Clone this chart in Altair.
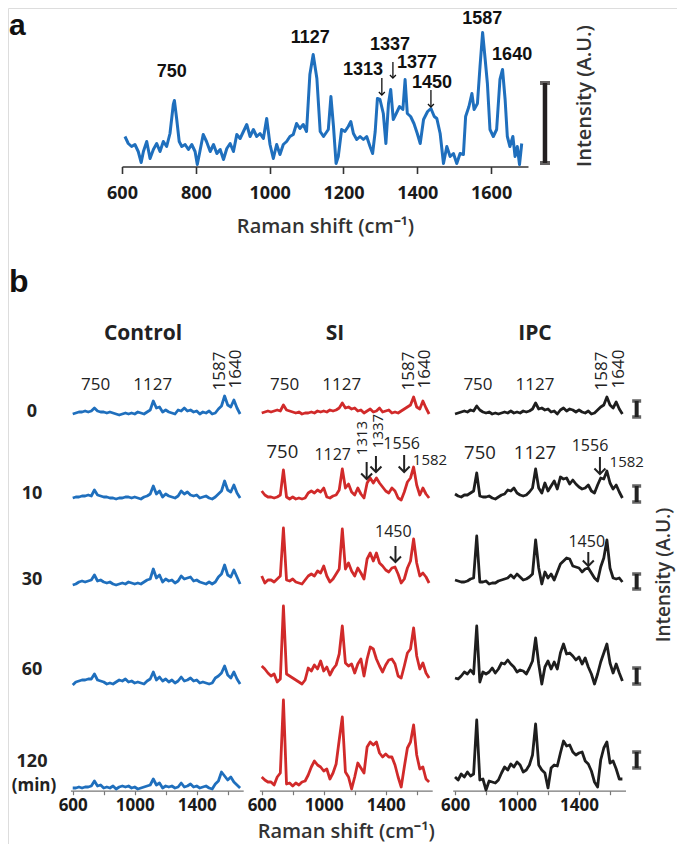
import altair as alt
import pandas as pd

# ---------------- panel a : single spectrum ----------------
wn_a = [
    608, 617, 626, 635, 644, 652, 658, 667, 676, 685,
    694, 703, 712, 721, 730, 739, 742, 748, 755, 762,
    771, 780, 789, 798, 804, 811, 820, 829, 839, 848,
    857, 866, 875, 884, 893, 902, 911, 920, 929, 938,
    947, 956, 965, 974, 983, 992, 1001, 1010, 1019, 1028,
    1037, 1046, 1055, 1064, 1073, 1082, 1091, 1100, 1109, 1118,
    1128, 1137, 1146, 1159, 1166, 1173, 1180, 1186, 1195, 1204,
    1213, 1220, 1227, 1236, 1245, 1254, 1263, 1272, 1279, 1286,
    1292, 1299, 1308, 1315, 1322, 1328, 1335, 1343, 1352, 1361,
    1367, 1373, 1382, 1391, 1400, 1408, 1417, 1428, 1437, 1446,
    1453, 1462, 1471, 1480, 1489, 1498, 1507, 1516, 1525, 1531,
    1540, 1548, 1554, 1563, 1570, 1577, 1584, 1590, 1597, 1606,
    1615, 1624, 1631, 1638, 1644, 1651, 1659, 1665, 1671, 1677,
    1683]
int_a = [
    30, 23, 20, 22, 15, 4, 15, 25, 8, 17,
    23, 15, 25, 20, 33, 62, 66, 48, 25, 20,
    22, 17, 22, 15, 2, 15, 32, 25, 15, 22,
    13, 17, 7, 18, 23, 15, 32, 28, 35, 42,
    30, 37, 30, 33, 28, 48, 22, 8, 22, 12,
    22, 25, 30, 32, 43, 38, 42, 35, 92, 112,
    88, 35, 30, 37, 70, 40, 3, 10, 37, 35,
    40, 45, 33, 27, 30, 27, 30, 20, 13, 35,
    68, 67, 53, 23, 63, 77, 47, 53, 60, 57,
    87, 53, 50, 43, 33, 23, 47, 55, 58, 50,
    48, 33, 3, 20, 10, 13, 3, 13, 12, 50,
    60, 73, 57, 63, 100, 134, 107, 83, 37, 30,
    37, 87, 97, 67, 30, 20, 30, 10, 20, 2,
    23]

a_labels = ["750", "1127", "1313", "1337", "1377", "1450", "1587", "1640"]
a_label_wn = [735, 1110, 1253, 1326, 1399, 1440, 1576, 1657]
a_label_y = [95, 128.5, 96.5, 121.5, 103.5, 83.5, 147.5, 111.5]
# arrows of panel a: wavenumber, top, tip
a_arrow_wn = [1304, 1334, 1437]
a_arrow_top = [88.5, 104.5, 76.5]
a_arrow_tip = [71.5, 88.5, 59.5]
a_bar_wn = 1746
a_bar_y = [3.5, 83.5]

# ---------------- panel b : 3 groups x 5 times ----------------
wn_b = list(range(600, 1681, 20))
times = ["0", "10", "30", "60", "120"]
groups = ["Control", "SI", "IPC"]

control_0 = [2, 3, 4, 4, 5, 4, 5, 8, 5, 4, 4,
             3, 4, 3, 2, 1, 2, 3, 2, 3, 2, 4,
             3, 2, 4, 6, 15, 8, 9, 4, 6, 4, 3,
             2, 6, 5, 8, 5, 6, 4, 5, 2, 4, 3,
             5, 2, 3, 7, 10, 20, 11, 9, 16, 8, 2]
control_10 = [2, 3, 3, 4, 4, 5, 4, 10, 5, 4, 3,
              3, 2, 2, 1, 2, 2, 3, 3, 2, 3, 2,
              1, 3, 4, 6, 14, 6, 9, 3, 6, 4, 3,
              2, 4, 9, 6, 8, 5, 4, 5, 2, 3, 4,
              2, 1, 3, 6, 9, 19, 10, 8, 15, 7, 2]
control_30 = [1, 2, 4, 5, 4, 5, 6, 11, 5, 6, 4,
              3, 4, 2, 1, 2, 3, 2, 4, 3, 2, 3,
              2, 4, 6, 7, 17, 8, 11, 4, 7, 5, 6,
              3, 5, 10, 7, 8, 9, 5, 6, 4, 3, 2,
              4, 2, 4, 9, 12, 21, 11, 9, 16, 9, 2]
control_60 = [1, 4, 5, 6, 6, 7, 7, 12, 6, 5, 4,
              2, 3, 2, 4, 6, 5, 7, 4, 5, 3, 4,
              3, 2, 5, 7, 14, 6, 9, 5, 7, 4, 6,
              3, 5, 9, 5, 6, 8, 5, 6, 3, 4, 3,
              2, 3, 8, 10, 13, 20, 11, 8, 14, 7, 2]
control_120 = [2, 2, 3, 2, 3, 3, 4, 9, 4, 5, 2,
               3, 2, 4, 1, 3, 4, 3, 4, 2, 3, 1,
               2, 3, 4, 5, 11, 5, 7, 2, 4, 3, 4,
               2, 3, 7, 3, 4, 6, 3, 4, 2, 3, 4,
               2, 1, 6, 9, 18, 14, 10, 13, 8, 5, 2]

si_0 = [3, 4, 5, 4, 5, 6, 5, 11, 6, 5, 4,
        3, 4, 2, 3, 3, 4, 3, 5, 4, 5, 4,
        6, 5, 6, 8, 13, 8, 9, 7, 8, 5, 6,
        3, 5, 7, 4, 5, 8, 4, 5, 6, 3, 4,
        3, 5, 7, 9, 11, 19, 9, 7, 15, 8, 2]
si_10 = [9, 5, 3, 3, 2, 3, 5, 30, 3, 1, 3,
         1, 2, 1, 2, 7, 9, 7, 10, 8, 12, 3,
         2, 4, 5, 10, 31, 12, 16, 8, 5, 12, 6,
         2, 17, 22, 17, 22, 17, 13, 9, 7, 12, 9,
         2, 0, 8, 18, 22, 33, 15, 5, 12, 6, 2]
si_30 = [10, 3, 6, 6, 4, 7, 10, 58, 6, 5, 7,
         4, 3, 2, 6, 10, 12, 10, 15, 13, 20, 10,
         4, 7, 12, 17, 57, 17, 23, 15, 10, 18, 13,
         7, 27, 33, 25, 33, 23, 20, 16, 14, 18, 19,
         12, 3, 7, 18, 25, 47, 23, 10, 13, 9, 3]
si_60 = [20, 17, 13, 10, 12, 4, 7, 80, 12, 10, 8,
         6, 4, 2, 6, 18, 15, 21, 17, 25, 15, 19,
         11, 17, 21, 32, 60, 23, 20, 22, 13, 22, 27,
         10, 27, 39, 37, 27, 20, 14, 21, 26, 27, 22,
         10, 8, 20, 33, 37, 58, 30, 17, 23, 13, 8]
si_120 = [13, 10, 8, 8, 5, 13, 17, 90, 6, 7, 4,
          7, 5, 8, 9, 15, 23, 29, 25, 23, 19, 21,
          11, 17, 26, 50, 73, 18, 13, 1, 13, 27, 22,
          17, 43, 48, 45, 48, 37, 33, 36, 33, 33, 25,
          13, 3, 23, 42, 48, 65, 35, 21, 23, 11, 8]

ipc_0 = [2, 3, 4, 5, 4, 6, 5, 10, 6, 4, 3,
         4, 2, 3, 2, 3, 4, 3, 5, 3, 4, 3,
         5, 4, 5, 7, 13, 7, 8, 6, 7, 4, 5,
         2, 6, 8, 5, 7, 6, 4, 6, 4, 3, 5,
         2, 3, 6, 9, 11, 19, 11, 8, 14, 7, 2]
ipc_10 = [6, 4, 3, 5, 5, 7, 9, 27, 4, 3, 3,
          4, 2, 1, 3, 5, 6, 10, 9, 12, 7, 5,
          4, 5, 8, 12, 31, 12, 7, 17, 9, 14, 19,
          11, 23, 21, 22, 16, 20, 16, 13, 11, 12, 15,
          9, 7, 15, 22, 21, 29, 17, 11, 15, 8, 2]
ipc_30 = [6, 5, 4, 4, 5, 7, 8, 50, 4, 4, 5,
          2, 3, 3, 5, 6, 7, 8, 11, 8, 12, 9,
          6, 7, 9, 12, 46, 18, 2, 14, 8, 12, 6,
          14, 22, 25, 28, 27, 20, 19, 18, 14, 17, 18,
          13, 8, 5, 19, 28, 46, 18, 8, 7, 8, 4]
ipc_60 = [8, 7, 10, 14, 12, 16, 12, 60, 4, 14, 12,
          14, 18, 13, 17, 23, 22, 26, 22, 19, 14, 16,
          15, 12, 18, 25, 48, 22, 2, 19, 25, 17, 24,
          17, 33, 42, 32, 33, 30, 26, 29, 22, 28, 19,
          12, 2, 12, 24, 33, 42, 23, 13, 22, 13, 5]
ipc_120 = [13, 10, 16, 13, 18, 14, 16, 70, 10, 11, 0,
           9, 8, 7, 10, 17, 23, 20, 26, 23, 28, 25,
           18, 20, 25, 35, 66, 25, 20, 17, 2, 22, 25,
           24, 37, 49, 44, 45, 38, 35, 37, 38, 29, 26,
           19, 8, 3, 30, 42, 48, 27, 29, 21, 11, 11]

spectra_b = {
    "Control": [control_0, control_10, control_30, control_60, control_120],
    "SI": [si_0, si_10, si_30, si_60, si_120],
    "IPC": [ipc_0, ipc_10, ipc_30, ipc_60, ipc_120],
}
for g in groups:
    for s in spectra_b[g]:
        assert len(s) == len(wn_b), (g, len(s))

# vertical stacking of the five time rows (intensity units above the axis)
row_base = [374, 290, 204, 104, 0]

# annotations of panel b
b_row0_h = [("750", 748, 405), ("1127", 1116, 405)]
b_row0_v = [("1587", 1548, 419), ("1640", 1655, 421)]
b_big = [("SI", "750", 733, 338), ("IPC", "750", 761, 337), ("IPC", "1127", 1116, 337)]
b_mid = [("SI", "1127", 1058, 335), ("SI", "1556", 1503, 346), ("SI", "1450", 1449, 258),
         ("IPC", "1556", 1471, 344), ("IPC", "1450", 1450, 248)]
b_small = [("SI", "1582", 1686, 330), ("IPC", "1582", 1708, 328)]
b_rot = [("SI", "1313", 1250, 352), ("SI", "1337", 1349, 359)]
# arrows of panel b: group, wavenumber, top, tip
b_arrows = [("SI", 1277, 328, 311), ("SI", 1337, 334, 318), ("SI", 1519, 335, 318),
            ("SI", 1463, 244, 228), ("IPC", 1535, 333, 316), ("IPC", 1460, 238, 224)]
b_bar_wn = 1772
b_bar_lo = [373, 288, 201, 106, 22]
b_bar_hi = [389, 304, 216, 122, 38]

# ---------------- layout / style ----------------
W, H = 669, 836
FONT = "Open Sans"
COLORS = {"Control": "#1f6fbd", "SI": "#d12a2a", "IPC": "#1e1e1e"}
TXT = "#222222"
VHEAD = "M-1,-1L0,0L1,-1"

XA = ([600, 1700], [114, 520])
YA = ([0, 140], [158.5, 18.5])
XB = {"Control": ([585, 1700], [62.4, 235.2]),
      "SI": ([585, 1700], [251.4, 424.2]),
      "IPC": ([585, 1700], [444.7, 617.5])}
YB = ([0, 400], [782, 382])
AXIS_B_Y = 782.7


def sx(spec, field="wn", axis=None):
    return alt.X(f"{field}:Q", scale=alt.Scale(domain=spec[0], range=spec[1], nice=False, zero=False),
                 axis=axis)


def sy(spec, field="y"):
    return alt.Y(f"{field}:Q", scale=alt.Scale(domain=spec[0], range=spec[1], nice=False, zero=False),
                 axis=None)


def fixed_text(txt, px, py, **mk):
    base = dict(font=FONT, color=TXT, align="center", baseline="middle")
    base.update(mk)
    return alt.Chart(pd.DataFrame({"t": [txt]})).mark_text(**base).encode(
        x=alt.value(px - 8), y=alt.value(py - 8), text="t:N")


def arrows(df, xspec, yspec, color, sw, head):
    shaft = alt.Chart(df).mark_rule(color=color, strokeWidth=sw).encode(
        x=sx(xspec), y=sy(yspec, "top"), y2="tip:Q")
    tip = alt.Chart(df).mark_point(shape=VHEAD, filled=False, color=color, strokeWidth=sw,
                                   size=head * head, opacity=1, strokeJoin="miter").encode(
        x=sx(xspec), y=sy(yspec, "tip"))
    return [shaft, tip]


layers = []

# ---- panel a
dfa = pd.DataFrame({"wn": wn_a, "y": int_a})
axis_a = alt.Axis(orient="bottom", offset=158.5 - H, values=[600, 800, 1000, 1200, 1400, 1600],
                  format="d", grid=False, labelFlush=False, labelOverlap=False,
                  domainColor="#333", domainWidth=1.6, tickColor="#333", tickWidth=1.6, tickSize=7,
                  labelFont=FONT, labelFontSize=18, labelFontWeight="bold", labelColor="#1a1a1a",
                  labelPadding=11, title="Raman shift (cm\u207b\u00b9)", titleFont=FONT,
                  titleFontSize=20, titleFontWeight=600, titleColor="#333", titlePadding=14)
layers.append(alt.Chart(dfa).mark_line(color=COLORS["Control"], strokeWidth=3, strokeJoin="round")
              .encode(x=sx(XA, axis=axis_a), y=sy(YA)))
dfa_lab = pd.DataFrame({"text": a_labels, "wn": a_label_wn, "y": a_label_y})
layers.append(alt.Chart(dfa_lab).mark_text(font="Liberation Sans", fontSize=18, fontWeight="bold",
                                           color="#111", baseline="middle")
              .encode(x=sx(XA), y=sy(YA), text="text:N"))
dfa_arr = pd.DataFrame({"wn": a_arrow_wn, "top": a_arrow_top, "tip": a_arrow_tip})
layers += arrows(dfa_arr, XA, YA, "#111", 1.3, 6)
dfa_bar = pd.DataFrame({"wn": [a_bar_wn], "y": [a_bar_y[0]], "y2": [a_bar_y[1]]})
layers.append(alt.Chart(dfa_bar).mark_rule(color="#231f20", strokeWidth=4.5)
              .encode(x=sx(XA), y=sy(YA), y2="y2:Q"))
dfa_cap = pd.DataFrame({"wn": [a_bar_wn, a_bar_wn], "y": a_bar_y})
layers.append(alt.Chart(dfa_cap).mark_tick(color="#231f20", orient="horizontal", size=10, thickness=4)
              .encode(x=sx(XA), y=sy(YA)))

# ---- panel b spectra
for g in groups:
    recs = []
    for r, t in enumerate(times):
        for w, v in zip(wn_b, spectra_b[g][r]):
            recs.append({"wn": w, "y": v + row_base[r], "row": t})
    df = pd.DataFrame(recs)
    axis_b = alt.Axis(orient="bottom", offset=AXIS_B_Y - H, values=[600, 800, 1000, 1200, 1400, 1600],
                      format="d", labelExpr="(datum.value - 600) % 400 == 0 ? datum.label : ''",
                      grid=False, labelFlush=False, labelOverlap=False,
                      domainColor="#777", domainWidth=1.2, tickColor="#777", tickWidth=1.2, tickSize=4,
                      labelFont=FONT, labelFontSize=17, labelFontWeight="bold", labelColor="#1a1a1a",
                      labelPadding=3,
                      title=("Raman shift (cm\u207b\u00b9)" if g == "SI" else ""),
                      titleFont=FONT, titleFontSize=20, titleFontWeight=600, titleColor="#333",
                      titlePadding=8)
    layers.append(alt.Chart(df).mark_line(color=COLORS[g], strokeWidth=2.8, strokeJoin="round")
                  .encode(x=sx(XB[g], axis=axis_b), y=sy(YB), detail="row:N"))

    df0 = pd.DataFrame([{"text": t, "wn": w, "y": y} for t, w, y in b_row0_h])
    layers.append(alt.Chart(df0).mark_text(font=FONT, fontSize=17, color=TXT, baseline="middle")
                  .encode(x=sx(XB[g]), y=sy(YB), text="text:N"))
    df0v = pd.DataFrame([{"text": t, "wn": w, "y": y} for t, w, y in b_row0_v])
    layers.append(alt.Chart(df0v).mark_text(font=FONT, fontSize=17, color=TXT, baseline="middle",
                                            angle=270)
                  .encode(x=sx(XB[g]), y=sy(YB), text="text:N"))

    for lst, size, ang in [(b_big, 18.5, 0), (b_mid, 16, 0), (b_small, 15, 0), (b_rot, 15, 270)]:
        sub = [{"text": t, "wn": w, "y": y} for gg, t, w, y in lst if gg == g]
        if sub:
            mk = dict(font=FONT, fontSize=size, color=TXT, baseline="middle")
            if ang:
                mk["angle"] = ang
            layers.append(alt.Chart(pd.DataFrame(sub)).mark_text(**mk)
                          .encode(x=sx(XB[g]), y=sy(YB), text="text:N"))
    arr = [{"wn": w, "top": a, "tip": b} for gg, w, a, b in b_arrows if gg == g]
    if arr:
        layers += arrows(pd.DataFrame(arr), XB[g], YB, TXT, 2, 11)

# scale bars of panel b (to the right of the IPC column)
dfb_bar = pd.DataFrame({"wn": [b_bar_wn] * 5, "y": b_bar_lo, "y2": b_bar_hi})
layers.append(alt.Chart(dfb_bar).mark_rule(color="#222", strokeWidth=4)
              .encode(x=sx(XB["IPC"]), y=sy(YB), y2="y2:Q"))
dfb_cap = pd.DataFrame({"wn": [b_bar_wn] * 10, "y": b_bar_lo + b_bar_hi})
layers.append(alt.Chart(dfb_cap).mark_tick(color="#222", orient="horizontal", size=9, thickness=3.5)
              .encode(x=sx(XB["IPC"]), y=sy(YB)))

# ---- figure texts
layers.append(fixed_text("a", 9, 35, font="Liberation Sans", fontSize=30, fontWeight="bold",
                         color="#111", align="left", baseline="alphabetic"))
layers.append(fixed_text("b", 9, 292, font="Liberation Sans", fontSize=32, fontWeight="bold",
                         color="#111", align="left", baseline="alphabetic"))
for g, px in zip(groups, [143, 335, 535]):
    layers.append(fixed_text(g, px, 334, fontSize=21, fontWeight="bold"))
for t, py in zip(times, [412, 494, 580, 670, 762]):
    layers.append(fixed_text(t, 32, py, fontSize=18, fontWeight="bold"))
layers.append(fixed_text("(min)", 34, 786, fontSize=17, fontWeight="bold"))
layers.append(fixed_text("Intensity (A.U.)", 585, 96, fontSize=20, fontWeight=600, angle=270,
                         color="#333"))
layers.append(fixed_text("Intensity (A.U.)", 664, 575, fontSize=19, fontWeight=600, angle=270,
                         color="#333"))

chart = (alt.layer(*layers)
         .resolve_scale(x="independent", y="independent")
         .properties(width=W, height=H, padding=0, autosize=alt.AutoSizeParams(type="none"))
         .configure_view(stroke=None)
         .configure(font=FONT))

chart.save("out.html", embed_options={"renderer": "svg", "actions": False})
